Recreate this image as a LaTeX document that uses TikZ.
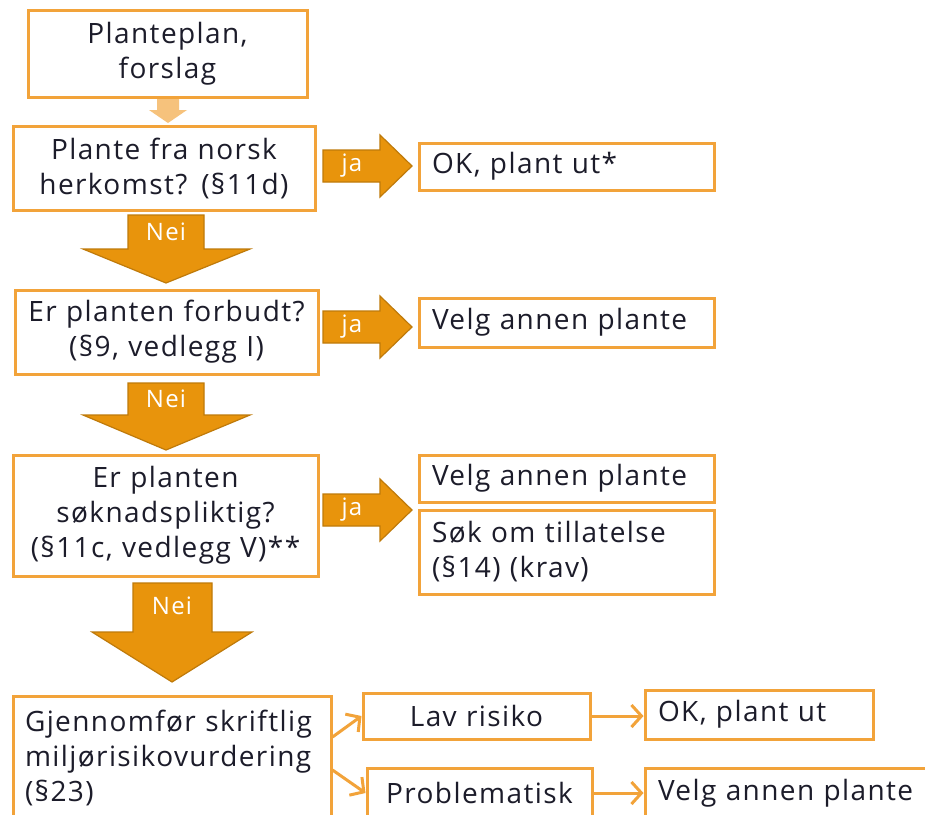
\documentclass[tikz,border=0pt]{standalone}
\usepackage{fontspec}
\setmainfont[LetterSpace=5]{Open Sans}
\usetikzlibrary{arrows.meta}

\definecolor{boxorange}{HTML}{F2A33A}
\definecolor{arroworange}{HTML}{E8940C}
\definecolor{arrowedge}{HTML}{BF7A0A}
\definecolor{lightorange}{HTML}{F6C27C}
\definecolor{textdark}{HTML}{1C1C2A}

\tikzset{
  box/.style={draw=boxorange, line width=3pt, fill=white, inner xsep=13pt, inner ysep=0pt,
    align=center, text=textdark, font=\fontsize{28}{35}\selectfont},
  leftbox/.style={box, align=left},
  bigarrow/.style={fill=arroworange, draw=arrowedge, line width=1.2pt, line join=miter},
  arrowlabel/.style={text=white, inner sep=0pt, font=\fontsize{24}{26}\selectfont},
  conn/.style={draw=boxorange, line width=3pt, -{Straight Barb[length=10pt,width=22pt]}}
}

\begin{document}
\begin{tikzpicture}[x=1pt, y=-1pt]
                \clip (0,0) rectangle (925,814);
                \fill[white] (0,0) rectangle (925,814);
                % small arrow at the top
                \fill[lightorange] (157,95) -- (179,95) -- (179,110) -- (187,110) -- (168,123) -- (149,110) -- (157,110) -- cycle;
                % left column
                \node[box, text width=253pt, minimum height=87pt] (plan) at (167.5,53.5) {Planteplan,\\forslag};
                \node[box, text width=276pt, minimum height=84pt] (norsk) at (164,168) {Plante fra norsk\\herkomst? (§11d)};
                \node[box, text width=277pt, minimum height=84pt] (forbudt) at (166.5,332) {Er planten forbudt?\\(§9, vedlegg I)};
                \node[box, text width=279pt, minimum height=121pt] (soknad) at (165.5,515.5) {Er planten\\søknadspliktig?\\(§11c, vedlegg V)**};
                \node[leftbox, inner xsep=12pt, text width=294pt, minimum height=124pt] (vurdering) at (172,758) {Gjennomfør skriftlig\\miljørisikovurdering\\(§23)};
                % right column
                \node[leftbox, text width=269pt, minimum height=47pt] (okstar) at (566.5,166.5) {OK, plant ut*};
                \node[leftbox, text width=269pt, minimum height=49pt] (velga) at (566.5,322.5) {Velg annen plante};
                \node[leftbox, text width=269pt, minimum height=47pt] (velgb) at (566.5,478.5) {Velg annen plante};
                \node[leftbox, text width=269pt, minimum height=84pt] (sok) at (566.5,552) {Søk om tillatelse\\(§14) (krav)};
                % bottom row
                \node[box, text width=201pt, minimum height=46pt] (lav) at (476.5,716) {Lav risiko};
                \node[box, text width=199pt, minimum height=50pt] (problem) at (479.5,793) {Problematisk};
                \node[leftbox, text width=202pt, minimum height=49pt] (okplant) at (759,714.5) {OK, plant ut};
                \node[leftbox, text width=264pt, minimum height=50pt] (velgc) at (790,793) {Velg annen plante};
                % nei arrows
                \draw[bigarrow] (128,215) -- (204,215) -- (204,249) -- (250,249) -- (166,283) -- (83,249) -- (128,249) -- cycle;
                \node[arrowlabel] (nei1) at (166,232) {Nei};
                \draw[bigarrow] (128,383) -- (204,383) -- (204,415) -- (250,415) -- (166,450) -- (83,415) -- (128,415) -- cycle;
                \node[arrowlabel] (nei2) at (166,399) {Nei};
                \draw[bigarrow] (133,583) -- (212,583) -- (212,632) -- (252,632) -- (172,682) -- (92,632) -- (133,632) -- cycle;
                \node[arrowlabel] (nei3) at (172,606) {Nei};
                % ja arrows
                \draw[bigarrow] (323,150) -- (380,150) -- (380,135) -- (412,166) -- (380,197) -- (380,182) -- (323,182) -- cycle;
                \node[arrowlabel] (ja1) at (352,166) {ja};
                \draw[bigarrow] (323,311) -- (380,311) -- (380,296) -- (412,327) -- (380,358) -- (380,343) -- (323,343) -- cycle;
                \node[arrowlabel] (ja2) at (352,327) {ja};
                \draw[bigarrow] (323,494) -- (380,494) -- (380,479) -- (412,510) -- (380,541) -- (380,526) -- (323,526) -- cycle;
                \node[arrowlabel] (ja3) at (352,510) {ja};
                % thin connectors
                \draw[conn] ([yshift=21pt]vurdering.east) -- (lav.west);
                \draw[conn] ([yshift=-12pt]vurdering.east) -- (problem.west);
                \draw[conn] (lav.east) -- (lav.east -| okplant.west);
                \draw[conn] (problem.east) -- (problem.east -| velgc.west);
            \end{tikzpicture}
\end{document}
